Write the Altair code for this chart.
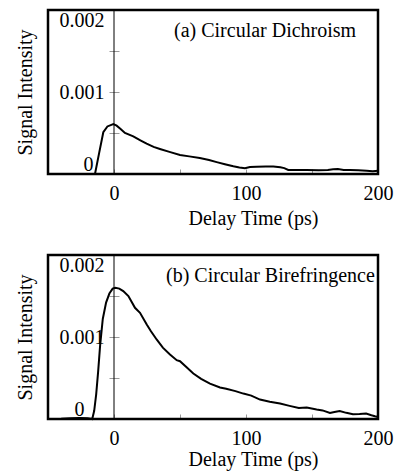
import altair as alt
import pandas as pd

# ---- data ----
cd_time = [-14.4, -11.2, -8.1, -5, -0.5, 2, 5, 8.3, 14.6, 20, 24.7, 30, 34.8, 42, 50, 57, 65,
           72, 77.8, 84, 90.4, 95, 99.2, 103, 108, 115, 120.7, 126, 129, 132, 140, 146, 155,
           162, 166, 169.6, 174, 178.8, 185, 191.4, 196, 200]
cd_signal = [0, 0.26, 0.51, 0.58, 0.61, 0.59, 0.55, 0.5, 0.46, 0.41, 0.37, 0.33, 0.305, 0.27,
             0.232, 0.215, 0.195, 0.17, 0.145, 0.12, 0.095, 0.08, 0.07, 0.085, 0.088, 0.09,
             0.09, 0.082, 0.072, 0.05, 0.048, 0.049, 0.045, 0.05, 0.058, 0.06, 0.05, 0.049,
             0.045, 0.041, 0.035, 0.04]

cb_time = [-50, -40, -33, -26, -20, -16.5, -15, -13.5, -12, -10.5, -8.5, -6, -3.5, -1, 1, 4, 7,
           10.9, 15.9, 19.7, 24.8, 28, 32.3, 37, 42.4, 47.5, 50, 55, 60.1, 66, 72.7, 80.3, 85,
           92, 98, 104, 110.6, 118, 125.8, 133, 140, 146, 153.5, 158, 163.6, 167, 171, 176,
           181, 186, 191, 195, 197.7, 200]
cb_signal = [0, 0.002, 0.01, 0.012, 0.01, 0, 0.1, 0.3, 0.58, 0.9, 1.22, 1.42, 1.53, 1.59, 1.6,
             1.59, 1.56, 1.5, 1.356, 1.295, 1.153, 1.07, 0.97, 0.87, 0.787, 0.717, 0.705, 0.63,
             0.555, 0.49, 0.432, 0.384, 0.37, 0.34, 0.31, 0.285, 0.237, 0.21, 0.188, 0.16,
             0.134, 0.139, 0.115, 0.105, 0.073, 0.085, 0.098, 0.075, 0.057, 0.06, 0.066, 0.045,
             0.033, 0.024]

x_ticks = [-50, 0, 50, 100, 150, 200]
y_ticks = [0, 0.0005, 0.001, 0.0015, 0.002]
x_domain = [-50, 200]
y_domain = [0, 0.002]
panel_titles = ["(a) Circular Dichroism", "(b) Circular Birefringence"]

FONT = "Liberation Serif"
W, H = 330, 164


def panel(times, signal_milli, label, zero_pad, text_x, title_y, label_pad):
    df = pd.DataFrame({"t": times, "s": [v / 1000 for v in signal_milli]})
    xscale = alt.Scale(domain=x_domain, nice=False, zero=False)
    yscale = alt.Scale(domain=y_domain, nice=False)
    yexpr = ("datum.value == 0.002 ? '0.002' : datum.value == 0.001 ? '0.001' : "
             "datum.value == 0 ? '0' : ''")
    line = alt.Chart(df).mark_line(color="black", strokeWidth=2).encode(
        x=alt.X("t:Q", scale=xscale, axis=alt.Axis(
            values=x_ticks, title="Delay Time (ps)", offset=-5, domain=False, grid=False,
            tickSize=5, tickColor="#999999", tickWidth=1,
            labelExpr="datum.value >= 0 && datum.value % 100 == 0 ? datum.label : ''",
            labelFlush=False, labelOverlap=False, labelPadding=label_pad,
            labelBaseline="alphabetic", labelFont=FONT, labelFontSize=20, labelColor="black",
            titleFont=FONT, titleFontSize=20, titleFontWeight="normal", titleColor="black",
            titleX=205, titleY=title_y, titleBaseline="alphabetic", titleAlign="center")),
        y=alt.Y("s:Q", scale=yscale, axis=alt.Axis(
            values=y_ticks, title="Signal Intensity", offset=-71, domain=False, grid=False,
            tickSize=10, tickColor="#999999", tickWidth=1,
            labelExpr=yexpr, labelFlush=True, labelOverlap=False,
            labelPadding={"condition": {"test": "datum.value == 0", "value": zero_pad},
                          "value": 5},
            labelFont=FONT, labelFontSize=20, labelColor="black",
            titleFont=FONT, titleFontSize=20, titleFontWeight="normal", titleColor="black",
            titleX=-94, titleY=82, titleAngle=270, titleBaseline="middle",
            titleAlign="center")),
    )
    zero_rule = alt.Chart(pd.DataFrame({"z": [0]})).mark_rule(
        color="black", strokeWidth=1).encode(x=alt.X("z:Q", scale=xscale))
    frame = alt.Chart(pd.DataFrame({
        "x0": [x_domain[0]], "x1": [x_domain[1]],
        "y0": [y_domain[0]], "y1": [y_domain[1]]})).mark_rect(
        fill="transparent", stroke="black", strokeWidth=2.5).encode(
        x=alt.X("x0:Q", scale=xscale), x2="x1:Q",
        y=alt.Y("y0:Q", scale=yscale), y2="y1:Q")
    txt = alt.Chart(pd.DataFrame({"lab": [label]})).mark_text(
        font=FONT, fontSize=20, align="left", baseline="alphabetic",
        color="black").encode(text="lab:N", x=alt.value(text_x), y=alt.value(27))
    return alt.layer(zero_rule, line, frame, txt).properties(width=W, height=H)


top = panel(cd_time, cd_signal, panel_titles[0], 16, 126, 55, 25)
bottom = panel(cb_time, cb_signal, panel_titles[1], 25, 118, 51, 25)

chart = alt.vconcat(top, bottom, spacing=23).properties(
    padding={"left": 14, "top": 7, "right": 5, "bottom": 2}
).configure_view(stroke="black", strokeWidth=2)

chart.save("out.html", embed_options={"renderer": "svg", "actions": False})
